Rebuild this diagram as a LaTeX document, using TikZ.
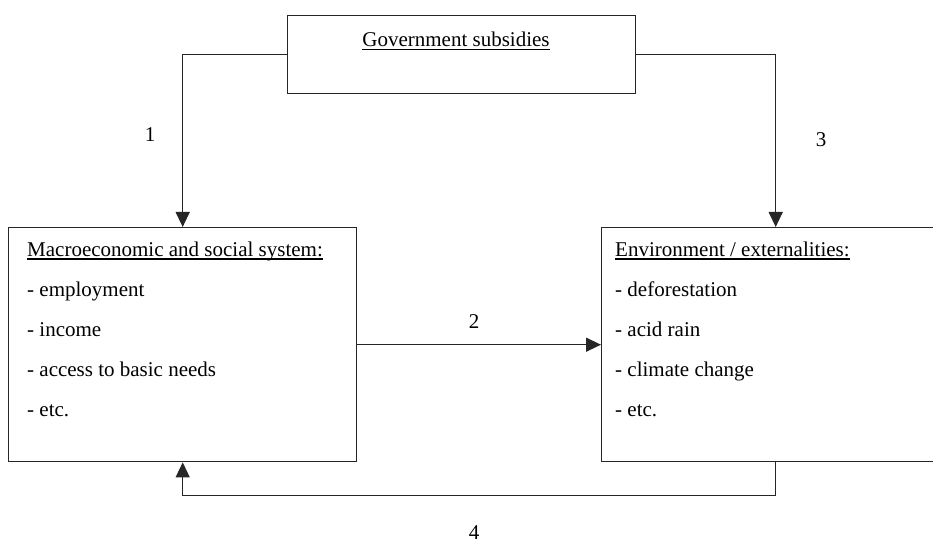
\documentclass[tikz,border=0pt]{standalone}
\usepackage{fontspec}
\setmainfont{Liberation Serif}
\usetikzlibrary{arrows.meta}

\newcommand{\figfont}{\fontsize{21}{25}\selectfont}
\newcommand{\pxscale}{1pt}
\newcommand{\ultext}[1]{\setbox0\hbox{#1}\rlap{\rule[-3.5pt]{\wd0}{1.1pt}}\box0}
\tikzstyle{block}=[draw=black!85,line width=1.4pt,rectangle,minimum width=348pt,inner sep=0pt,anchor=north west]
\tikzstyle{link} = [draw=black!85,line width=1.4pt,-{Triangle[length=15pt,width=14pt]}]
\tikzstyle{entry} = [font=\figfont,inner sep=0pt,anchor=base west]
\tikzstyle{num} = [font=\figfont,inner sep=0pt]

\begin{document}
\begin{tikzpicture}[x=\pxscale, y=-\pxscale]
    \useasboundingbox (0,0) rectangle (933,545);
    \clip (0,0) rectangle (933,545);
    % First we draw the boxes
    \node[block, minimum height=78pt] (gov) at (287,15) {};
    \node[block, minimum height=234pt] (macro) at (8,227) {};
    \node[block, minimum height=234pt] (env) at (601,227) {};
    % Then the texts inside them
    \node[entry, anchor=base] (govtitle) at (456,47) {\ultext{Government subsidies}};
    \node[entry] (macrotitle) at (27,256) {\ultext{Macroeconomic and social system:}};
    \foreach \txt [count=\i] in {employment, income, access to basic needs, etc.}
        \node[entry] (macro\i) at (27,256+40*\i) {- \txt};
    \node[entry] (envtitle) at (615,256) {\ultext{Environment / externalities:}};
    \foreach \txt [count=\i] in {deforestation, acid rain, climate change, etc.}
        \node[entry] (env\i) at (615,256+40*\i) {- \txt};
    % Connect boxes with arrows and draw numbers
    \path[link] (gov.west) -| (macro.north);
    \path[link] (gov.east) -| (env.north);
    \path[link] (macro.east) -- (env.west);
    \path[link] (env.south) -- ++(0,33) -| (macro.south);
    \node[num] (n1) at (150,135) {1};
    \node[num] (n2) at (474,322) {2};
    \node[num] (n3) at (821,140) {3};
    \node[num] (n4) at (474,533) {4};
\end{tikzpicture}
\end{document}
